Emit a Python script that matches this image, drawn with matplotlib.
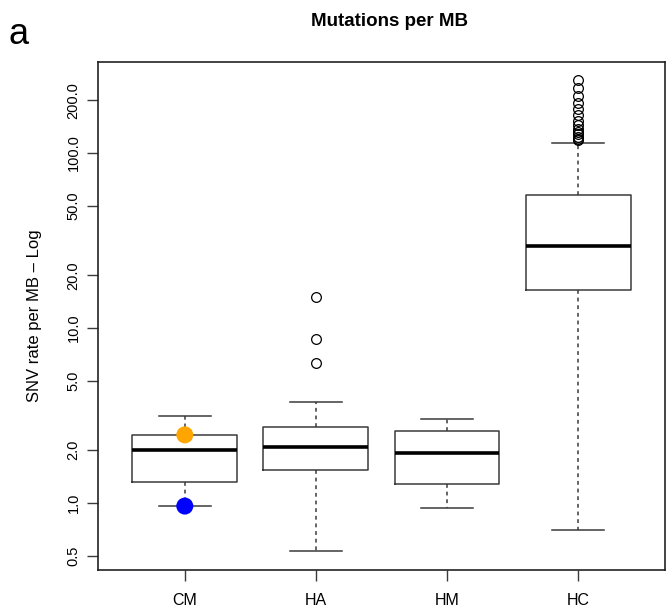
import matplotlib
matplotlib.use("Agg")
import matplotlib.pyplot as plt
from matplotlib.ticker import FixedLocator, NullLocator

# groups and box stats (log scale)
groups = ["CM", "HA", "HM", "HC"]
whislo = [0.96, 0.534, 0.933, 0.703]
q1 = [1.32, 1.54, 1.29, 16.5]
med = [2.01, 2.08, 1.92, 29.6]
q3 = [2.45, 2.71, 2.59, 57.8]
whishi = [3.14, 3.78, 3.01, 114.5]
fliers = [
    [],
    [6.32, 8.65, 15.1],
    [],
    [262, 235, 212, 193, 178, 165, 153, 144, 137, 132, 128, 124, 121, 118],
]

# two highlighted CM samples
hl_vals = [2.45, 0.96]
hl_cols = ["#FFA500", "#0000FF"]

yticks = [0.5, 1, 2, 5, 10, 20, 50, 100, 200]
ytick_labels = ["0.5", "1.0", "2.0", "5.0", "10.0", "20.0", "50.0", "100.0", "200.0"]

plt.rcParams["font.family"] = ["Liberation Sans", "DejaVu Sans"]

fig = plt.figure(figsize=(6.7, 6.16), dpi=100)
ax = fig.add_axes([0.1467, 0.0747, 0.8453, 0.8242])

stats = []
for i, g in enumerate(groups):
    stats.append(dict(label=g, whislo=whislo[i], q1=q1[i], med=med[i],
                      q3=q3[i], whishi=whishi[i], fliers=fliers[i]))

line_col = "#3a3a3a"
ax.bxp(stats, positions=range(1, 5), widths=0.8, capwidths=0.4,
       showfliers=True, patch_artist=False,
       boxprops=dict(color=line_col, linewidth=1.1),
       whiskerprops=dict(color=line_col, linewidth=1.1, linestyle=(0, (2.5, 2.5))),
       capprops=dict(color=line_col, linewidth=1.1),
       medianprops=dict(color="black", linewidth=2.6, solid_capstyle="butt"),
       flierprops=dict(marker="o", markerfacecolor="none",
                       markeredgecolor="black", markersize=7, markeredgewidth=0.9))

ax.scatter([1] * len(hl_vals), hl_vals, s=150, c=hl_cols, zorder=5, linewidths=0)

ax.set_yscale("log")
ax.set_ylim(0.414, 330)
ax.set_xlim(0.34, 4.66)
ax.yaxis.set_major_locator(FixedLocator(yticks))
ax.yaxis.set_minor_locator(NullLocator())
ax.set_yticklabels(ytick_labels, rotation=90, va="center", fontsize=10.5)
ax.set_xticks(range(1, 5))
ax.set_xticklabels(groups, fontsize=11.5)
ax.tick_params(axis="both", length=7.7, width=1, color=line_col)
ax.tick_params(axis="y", pad=5)
ax.tick_params(axis="x", pad=9)

for s in ax.spines.values():
    s.set_linewidth(1.2)
    s.set_color("#222222")

ax.set_ylabel("SNV rate per MB \u2013 Log", fontsize=12, labelpad=18)
fig.text(0.5817, 0.965, "Mutations per MB", ha="center", va="center",
         fontsize=13.5, fontweight="bold",
         family=["Liberation Sans Narrow", "Liberation Sans", "DejaVu Sans"])
fig.text(0.012, 0.944, "a", ha="left", va="center", fontsize=26)

fig.savefig("out.png", dpi=100)
